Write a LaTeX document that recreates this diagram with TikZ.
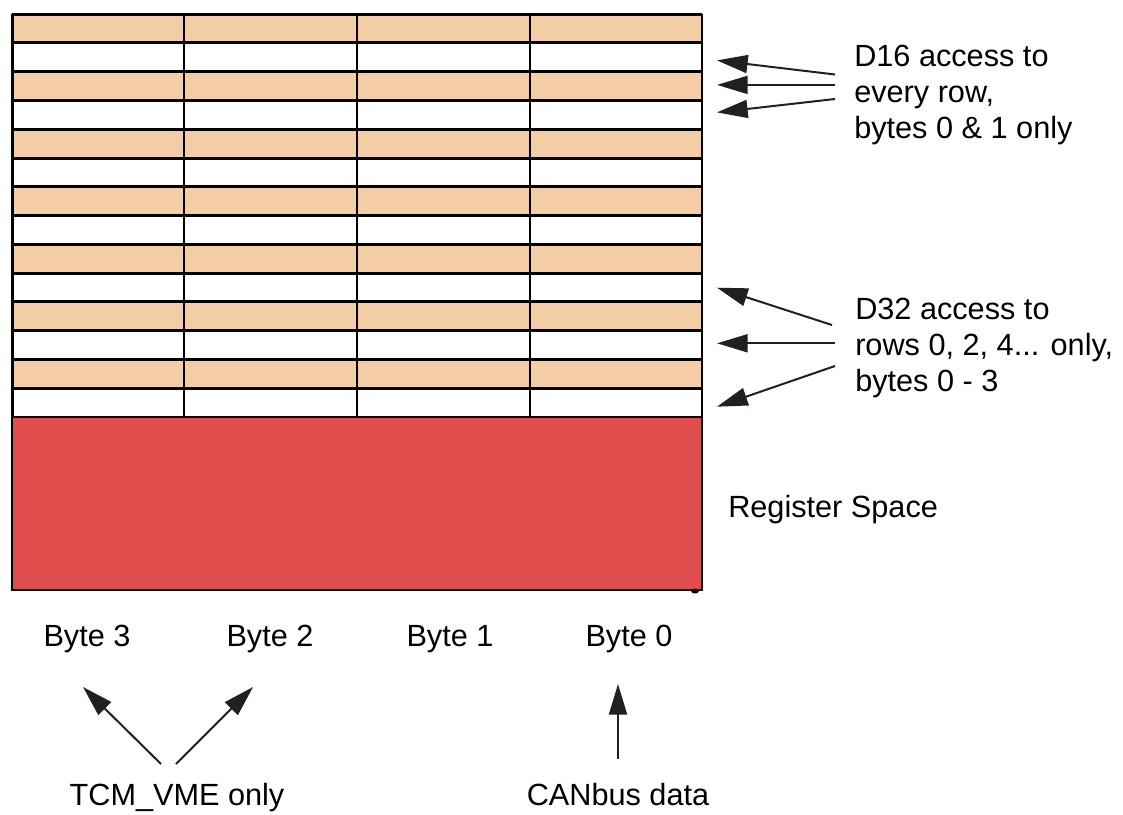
\documentclass[tikz,border=0pt]{standalone}
\usepackage{fontspec}
\setmainfont{Liberation Sans}
\usetikzlibrary{arrows.meta}
\definecolor{rowtan}{RGB}{243,205,166}
\definecolor{regred}{RGB}{223,78,76}
\definecolor{tipblack}{RGB}{35,31,32}

\begin{document}
\begin{tikzpicture}[x=0.75pt,y=0.75pt,yscale=-1,xscale=1,
  rowline/.style={line width=2.25},
  colline/.style={line width=1.5},
  pointer/.style={line width=1.5,draw=tipblack,-{Triangle[length=23pt,width=13.5pt]}},
  lbl/.style={inner sep=0pt,font=\fontsize{23}{27}\selectfont}]
%set diagram left start at 0, and has height of 814
\useasboundingbox[fill=white] (0,0) rectangle (1123,814);

%Shape: Rectangle [row 0]
\fill[rowtan] (12,14) rectangle (702,42.8);
%Shape: Rectangle [row 2]
\fill[rowtan] (12,71.6) rectangle (702,100.4);
%Shape: Rectangle [row 4]
\fill[rowtan] (12,129.2) rectangle (702,158);
%Shape: Rectangle [row 6]
\fill[rowtan] (12,186.7) rectangle (702,215.5);
%Shape: Rectangle [row 8]
\fill[rowtan] (12,244.3) rectangle (702,273.1);
%Shape: Rectangle [row 10]
\fill[rowtan] (12,301.9) rectangle (702,330.7);
%Shape: Rectangle [row 12]
\fill[rowtan] (12,359.5) rectangle (702,388.3);

%Straight Lines [rows]
\draw[rowline] (12,14) -- (702,14);
\draw[rowline] (12,42.8) -- (702,42.8);
\draw[rowline] (12,71.6) -- (702,71.6);
\draw[rowline] (12,100.4) -- (702,100.4);
\draw[rowline] (12,129.2) -- (702,129.2);
\draw[rowline] (12,158) -- (702,158);
\draw[rowline] (12,186.7) -- (702,186.7);
\draw[rowline] (12,215.5) -- (702,215.5);
\draw[rowline] (12,244.3) -- (702,244.3);
\draw[rowline] (12,273.1) -- (702,273.1);
\draw[rowline] (12,301.9) -- (702,301.9);
\draw[rowline] (12,330.7) -- (702,330.7);
\draw[rowline] (12,359.5) -- (702,359.5);
\draw[rowline] (12,388.3) -- (702,388.3);

%Straight Lines [columns]
\draw[colline] (184,14) -- (184,417);
\draw[colline] (357,14) -- (357,417);
\draw[colline] (530,14) -- (530,417);
\draw[colline] (702,14) -- (702,417);
\draw[line width=2.25] (12,14) -- (12,417);

%Shape: Rectangle [register space]
\draw[line width=1.8,fill=regred] (12,417) rectangle (702,590);
%Shape: Ellipse [corner blob]
\fill (695,591) ellipse (4 and 2.5);

%Text
\node[lbl,anchor=north west,align=left] (d16text) at (854,45) {D16 access to\\every row,\\bytes 0 \& 1 only};
\node[lbl,anchor=north west,align=left] (d32text) at (855,298) {D32 access to\\rows 0, 2, 4... only,\\bytes 0 - 3};
\node[lbl,anchor=base west] (regtext) at (728,517) {Register Space};
\node[lbl,anchor=base] (byte3) at (87,646) {Byte 3};
\node[lbl,anchor=base] (byte2) at (270,646) {Byte 2};
\node[lbl,anchor=base] (byte1) at (450,646) {Byte 1};
\node[lbl,anchor=base] (byte0) at (629,646) {Byte 0};
\node[lbl,anchor=base] (tcmtext) at (177,805) {TCM\_VME only};
\node[lbl,anchor=base] (cantext) at (618,805) {CANbus data};

%Arrow ends
\coordinate (d16tailA) at (835,74.5);
\coordinate (d16tipA) at (717,60.4);
\coordinate (d16tailB) at (835,84.9);
\coordinate (d16tipB) at (717,84.9);
\coordinate (d16tailC) at (835,99);
\coordinate (d16tipC) at (717,112.4);
\coordinate (d32tailA) at (832,325);
\coordinate (d32tipA) at (717,287.7);
\coordinate (d32tailB) at (835,343.3);
\coordinate (d32tipB) at (717,343.3);
\coordinate (d32tailC) at (835,366);
\coordinate (d32tipC) at (717,406.7);
\coordinate (tcmtailA) at (161,764);
\coordinate (tcmtipA) at (83,687);
\coordinate (tcmtailB) at (176,764);
\coordinate (tcmtipB) at (253,687);
\coordinate (cantail) at (618,759);
\coordinate (cantip) at (618,684);

%Arrows
\draw[pointer] (d16tailA) -- (d16tipA);
\draw[pointer] (d16tailB) -- (d16tipB);
\draw[pointer] (d16tailC) -- (d16tipC);
\draw[pointer] (d32tailA) -- (d32tipA);
\draw[pointer] (d32tailB) -- (d32tipB);
\draw[pointer] (d32tailC) -- (d32tipC);
\draw[pointer] (tcmtailA) -- (tcmtipA);
\draw[pointer] (tcmtailB) -- (tcmtipB);
\draw[pointer] (cantail) -- (cantip);

\end{tikzpicture}
\end{document}
